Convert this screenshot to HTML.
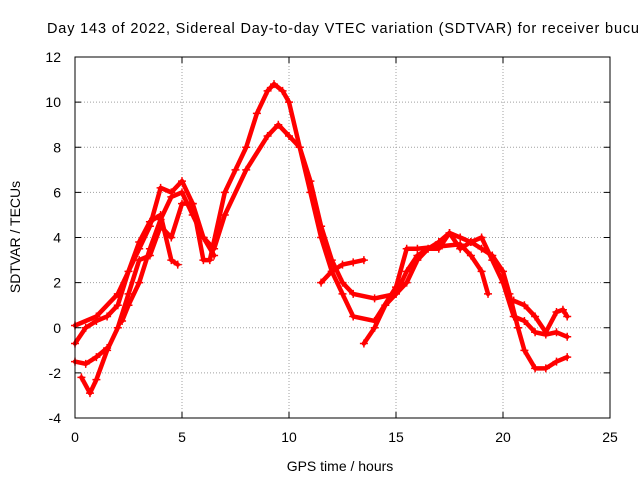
<!DOCTYPE html>
<html><head><meta charset="utf-8"><style>
body{margin:0;background:#fff;}
svg{display:block;font-family:"Liberation Sans",sans-serif;}
</style></head><body>
<svg id="chart" width="640" height="480" viewBox="0 0 640 480">
<rect width="640" height="480" fill="#fff"/>
<text x="47" y="33" font-size="14.5" fill="#000" textLength="592" lengthAdjust="spacing">Day 143 of 2022, Sidereal Day-to-day VTEC variation (SDTVAR) for receiver bucu</text>
<g id="grid"></g>
<g id="series"></g>
<rect x="75" y="57" width="535" height="361" fill="none" stroke="#000" stroke-width="1"/>
<g id="ticks"></g>
<text x="340" y="471" font-size="14" text-anchor="middle">GPS time / hours</text>
<text transform="translate(20,237) rotate(-90)" font-size="14" text-anchor="middle">SDTVAR / TECUs</text>
</svg>
<script>
const xTicks=[0,5,10,15,20,25];
const yTicks=[-4,-2,0,2,4,6,8,10,12];
const s1=[[0,0.1],[1,0.5],[2,1.5],[3,3.5],[3.5,4.5],[4,6.2],[4.5,6],[5,6.5],[5.5,5.5],[6,3],[6.3,3],[7,6],[7.5,7],[8,8],[8.5,9.5],[9,10.5],[9.3,10.8],[9.7,10.5],[10,10],[10.5,8],[11,6.5],[11.5,4.5],[12,3],[12.5,2],[13,1.5],[14,1.3],[15,1.5],[15.5,2.5],[16,3.2],[17,3.8],[17.5,4.2],[18,3.5],[18.5,3.8],[19,3.5],[19.5,3.2],[20,2.5],[20.3,1.5],[20.7,0],[21,-1],[21.5,-1.8],[22,-1.8],[22.5,-1.5],[23,-1.3]];
const s2=[[0,-1.5],[0.5,-1.6],[1,-1.3],[1.5,-0.9]];
const s3=[[0.3,-2.2],[0.7,-2.9],[1,-2.3],[1.5,-1],[2,0],[2.5,1.5],[3,3],[3.5,3.2],[4,4.5],[4.5,4],[5,5.5],[5.5,5.5],[6,4],[6.5,3.5],[7,5],[8,7],[9,8.5],[9.5,9],[10,8.5],[10.5,8],[11,6],[11.5,4],[12,2.5],[12.5,1.5],[13,0.5],[14,0.3],[15,1.8],[15.5,3.5],[16,3.5],[17,3.6],[18,3.7],[18.5,3.2],[19,2.5],[19.3,1.5]];
const s4=[[0,-0.7],[0.5,0],[1,0.3],[1.5,0.5],[2,1],[2.5,2.5],[3,3.8],[3.5,4.7],[4,5],[4.5,3],[4.8,2.8]];
const s5=[[2.2,0.3],[2.5,1],[3,2],[3.5,3.5],[4,4.8],[4.5,5.8],[5,6],[5.5,5],[6,4],[6.5,3.2]];
const s6=[[13.5,-0.7],[14,0],[14.5,1],[15,1.5],[15.5,2],[16,3],[16.5,3.5],[17,3.5],[17.5,4.2],[18,4],[18.5,3.8],[19,4],[19.5,3],[20,2],[20.5,0.5],[21,0.3],[21.5,-0.2],[22,-0.3],[22.5,-0.2],[23,-0.4]];
const s7=[[20.5,1.2],[21,1],[21.5,0.5],[22,-0.2],[22.5,0.7],[22.8,0.8],[23,0.5]];
const s8=[[11.5,2],[12,2.5],[12.5,2.8],[13,2.9],[13.5,3]];
const allSeries=[s1,s2,s3,s4,s5,s6,s7,s8];
const X=v=>75+v*535/25, Y=v=>418-(v+4)*361/16;
const NS="http://www.w3.org/2000/svg";
const grid=document.getElementById('grid'),ticks=document.getElementById('ticks'),ser=document.getElementById('series');
function mk(tag,at,par){const e=document.createElementNS(NS,tag);for(const k in at)e.setAttribute(k,at[k]);par.appendChild(e);return e;}
xTicks.forEach(t=>{const x=X(t);
 if(t>0&&t<25){const g=mk('line',{x1:x,x2:x,y1:57,y2:418,stroke:'#a0a0a0','stroke-dasharray':'1,2'},grid);
 
 }
 mk('line',{x1:x,x2:x,y1:418,y2:412,stroke:'#000'},ticks);mk('line',{x1:x,x2:x,y1:57,y2:63,stroke:'#000'},ticks);
 const l=mk('text',{x:x,y:442,'font-size':14,'text-anchor':'middle'},ticks);l.textContent=t;
 
 });
yTicks.forEach(t=>{const y=Y(t);
 if(t>-4&&t<12){const g=mk('line',{x1:75,x2:610,y1:y,y2:y,stroke:'#a0a0a0','stroke-dasharray':'1,2'},grid);
 
 }
 mk('line',{x1:75,x2:81,y1:y,y2:y,stroke:'#000'},ticks);mk('line',{x1:610,x2:604,y1:y,y2:y,stroke:'#000'},ticks);
 const l=mk('text',{x:61,y:y+5,'font-size':14,'text-anchor':'end'},ticks);l.textContent=t;
 
 });
allSeries.forEach((s,i)=>{
 const p=mk('polyline',{points:s.map(d=>X(d[0])+','+Y(d[1])).join(' '),fill:'none',stroke:'#f00','stroke-width':4.5,'stroke-linejoin':'round','stroke-linecap':'round'},ser);
 
 
 s.forEach(d=>{const x=X(d[0]),y=Y(d[1]);
  const m=mk('path',{d:`M${x-4},${y}H${x+4}M${x},${y-4}V${y+4}`,stroke:'#f00','stroke-width':1.5},ser);
  
  });
});
</script>
</body></html>
